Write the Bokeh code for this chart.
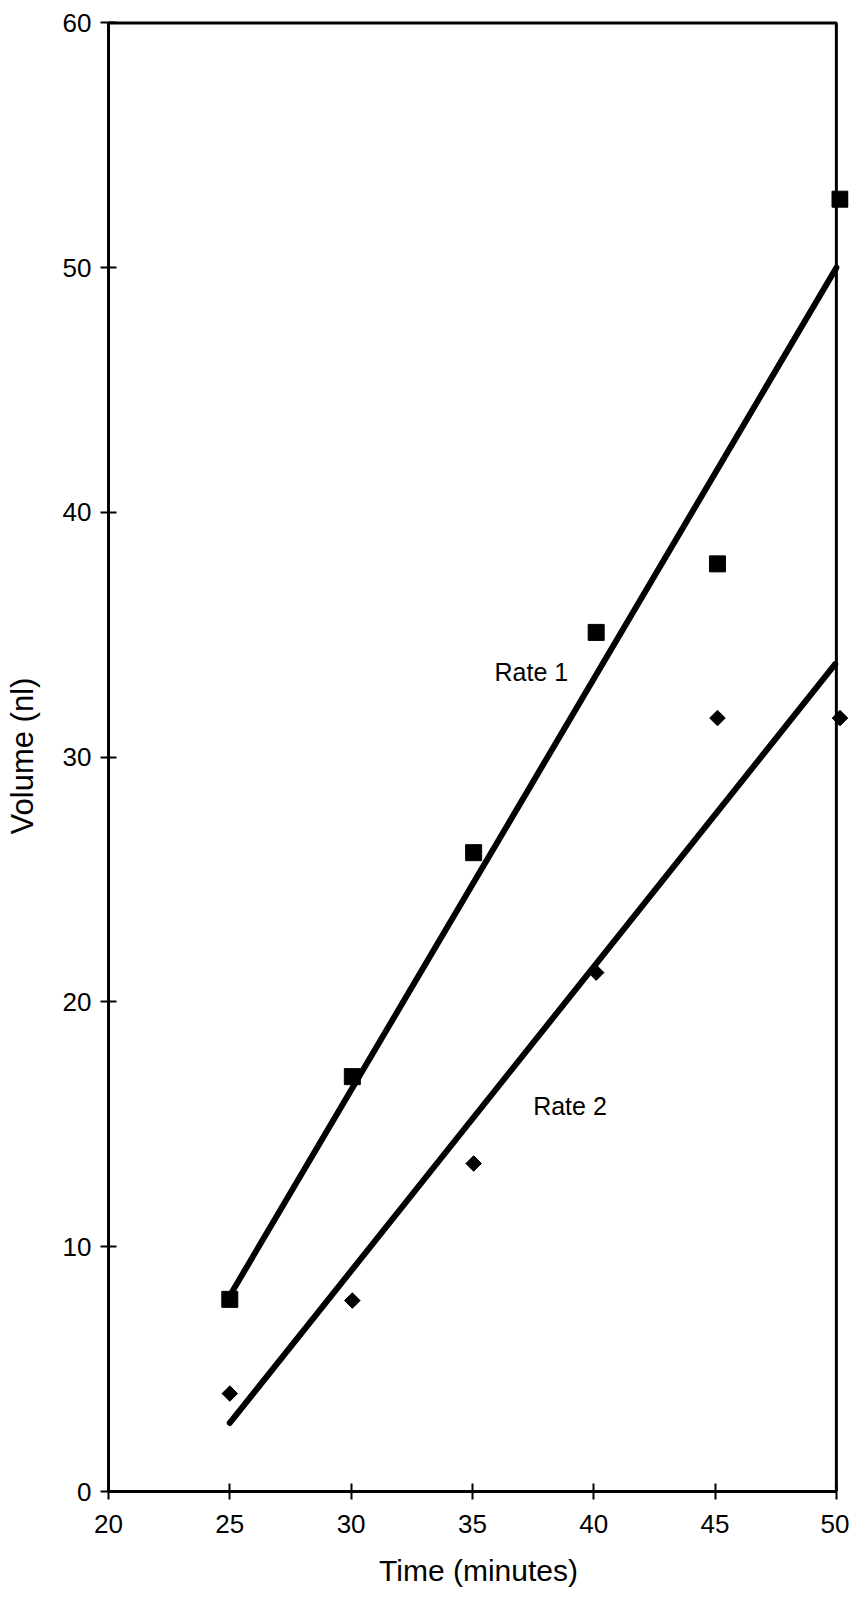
import math
from bokeh.plotting import figure
from bokeh.models import Range1d, BoxAnnotation, FixedTicker
from bokeh.core.properties import value
from bokeh.embed import file_html
from bokeh.resources import INLINE

# ---- data ----
time_rate1 = [25.0, 30.05, 35.05, 40.1, 45.1, 50.15]
volume_rate1 = [7.85, 16.95, 26.1, 35.1, 37.9, 52.8]

time_rate2 = [25.0, 30.05, 35.05, 40.1, 45.1, 50.15]
volume_rate2 = [4.0, 7.8, 13.4, 21.2, 31.6, 31.6]

fit1_x = [25.0, 50.0]
fit1_y = [8.0, 50.0]
fit2_x = [25.0, 49.95]
fit2_y = [2.8, 33.8]

label_x = [37.43, 39.02]
label_y = [33.5, 15.73]
label_text = ["Rate 1", "Rate 2"]

x_ticks = [20, 25, 30, 35, 40, 45, 50]
y_ticks = [0, 10, 20, 30, 40, 50, 60]

FONT = "Liberation Sans"

p = figure(width=849, height=1602, output_backend="svg", toolbar_location=None,
           x_range=Range1d(20, 50.5), y_range=Range1d(0, 60.1))
p.min_border_left = 108
p.min_border_right = 1
p.min_border_top = 20
p.min_border_bottom = 111
p.outline_line_color = None
p.background_fill_color = "white"
p.border_fill_color = "white"
p.xgrid.visible = False
p.ygrid.visible = False

# frame box
p.add_layout(BoxAnnotation(left=20, right=50, bottom=0, top=60,
                           fill_color=None, fill_alpha=0,
                           line_color="black", line_alpha=1.0, line_width=3))

# fitted lines
p.line(fit1_x, fit1_y, line_color="black", line_width=6, line_cap="round")
p.line(fit2_x, fit2_y, line_color="black", line_width=6, line_cap="round")

# markers
p.scatter(time_rate1, volume_rate1, marker="square", size=16,
          fill_color="black", line_color="black")
p.scatter(time_rate2, volume_rate2, marker="square", size=11, angle=math.pi / 4,
          fill_color="black", line_color="black")

# labels
p.text(label_x, label_y, text=label_text, text_align="center", text_baseline="middle",
       text_font=value(FONT), text_font_size="25px", text_color="black")

for ax in (p.xaxis[0], p.yaxis[0]):
    ax.axis_line_width = 3
    ax.axis_line_color = "black"
    ax.major_tick_line_width = 2
    ax.major_tick_line_color = "black"
    ax.major_tick_in = 8
    ax.major_tick_out = 8
    ax.minor_tick_line_color = None
    ax.major_label_text_font = FONT
    ax.major_label_text_font_size = "26px"
    ax.major_label_text_color = "black"
    ax.axis_label_text_font = FONT
    ax.axis_label_text_font_style = "normal"
    ax.axis_label_text_color = "black"

p.xaxis[0].axis_label_text_font_size = "30px"
p.yaxis[0].axis_label_text_font_size = "31px"
p.xaxis[0].ticker = FixedTicker(ticks=x_ticks)
p.yaxis[0].ticker = FixedTicker(ticks=y_ticks)
p.xaxis[0].bounds = (20, 50)
p.yaxis[0].bounds = (0, 60)
p.xaxis[0].axis_label = "Time (minutes)"
p.yaxis[0].axis_label = "Volume (nl)"
p.xaxis[0].major_label_standoff = 15
p.yaxis[0].major_label_standoff = 9
p.xaxis[0].axis_label_standoff = 18
p.yaxis[0].axis_label_standoff = 20

open("out.html", "w").write(file_html(p, INLINE))
